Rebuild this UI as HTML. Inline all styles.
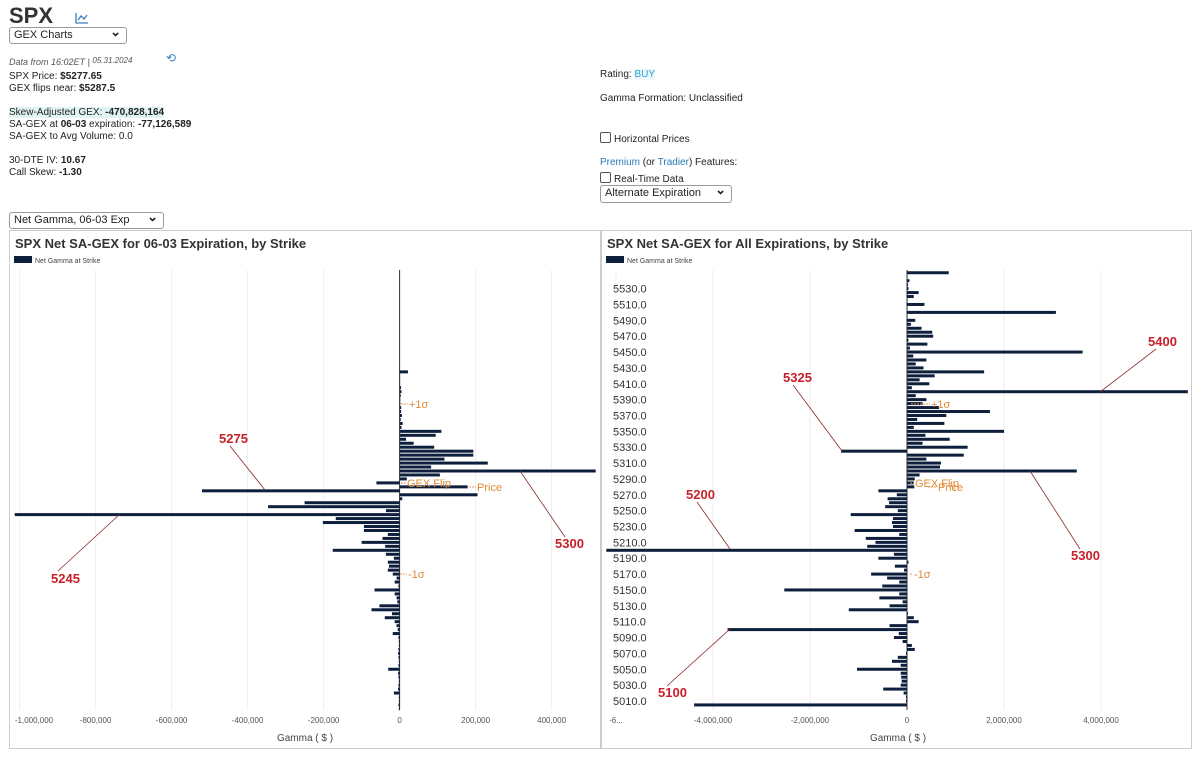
<!DOCTYPE html>
<html><head><meta charset="utf-8">
<style>
body{margin:0;width:1203px;height:772px;background:#fff;font-family:"Liberation Sans",Arial,sans-serif;color:#222;position:relative;overflow:hidden}
.a{position:absolute;white-space:nowrap}
.t{font-size:10px;line-height:11px}
.sel{position:absolute;border:1px solid #999;border-radius:3px;font-size:11px;padding:1px 4px;background:#fff;box-sizing:border-box}
.sel:after{content:"⌄";position:absolute;right:5px;top:-4px;font-size:13px;font-weight:bold}
b{font-weight:bold}
.cb{display:inline-block;width:9px;height:9px;border:1px solid #555;border-radius:2px;vertical-align:-1px;margin-right:3px}
a{color:#2a7ab8;text-decoration:none}
</style></head><body>
<div class="a" style="left:9px;top:3px;font-size:22px;font-weight:bold;color:#333">SPX</div>
<svg class="a" style="left:75px;top:12px" width="14" height="12"><polyline points="1,1 1,11 13,11" fill="none" stroke="#3a7fc0" stroke-width="1.3"/><polyline points="3,8 6,4 9,7 12,3" fill="none" stroke="#3a7fc0" stroke-width="1.3"/></svg>
<div class="sel" style="left:9px;top:27px;width:118px;height:17px">GEX Charts</div>
<div class="a t" style="left:9px;top:55px;font-style:italic;color:#555;font-size:9px">Data from 16:02ET | <span style="font-size:8px;vertical-align:2px">05.31.2024</span></div>
<div class="a" style="left:166px;top:51px;color:#3a7fc0;font-size:12px">⟲</div>
<div class="a t" style="left:9px;top:71px">SPX Price: <b>$5277.65</b></div>
<div class="a t" style="left:9px;top:83px">GEX flips near: <b>$5287.5</b></div>
<div class="a t" style="left:9px;top:107px;background:#e0f4f4">Skew-Adjusted GEX: <b>-470,828,164</b></div>
<div class="a t" style="left:9px;top:119px">SA-GEX at <b>06-03</b> expiration: <b>-77,126,589</b></div>
<div class="a t" style="left:9px;top:131px">SA-GEX to Avg Volume: 0.0</div>
<div class="a t" style="left:9px;top:155px">30-DTE IV: <b>10.67</b></div>
<div class="a t" style="left:9px;top:167px">Call Skew: <b>-1.30</b></div>
<div class="a t" style="left:600px;top:69px">Rating: <span style="color:#2a9fd6;background:#eef8fc">BUY</span></div>
<div class="a t" style="left:600px;top:93px">Gamma Formation: Unclassified</div>
<div class="a t" style="left:600px;top:132px"><span class="cb"></span>Horizontal Prices</div>
<div class="a t" style="left:600px;top:157px"><a>Premium</a> (or <a>Tradier</a>) Features:</div>
<div class="a t" style="left:600px;top:172px"><span class="cb"></span>Real-Time Data</div>
<div class="sel" style="left:600px;top:185px;width:132px;height:18px">Alternate Expiration</div>
<div class="sel" style="left:9px;top:212px;width:155px;height:17px">Net Gamma, 06-03 Exp</div>

<svg id="ch" class="a" style="left:0;top:0" width="1203" height="772"></svg>
<script>
const leftStrikes=[5425,5420,5415,5410,5405,5400,5395,5390,5385,5380,5375,5370,5365,5360,5355,5350,5345,5340,5335,5330,5325,5320,5315,5310,5305,5300,5295,5290,5285,5280,5275,5270,5265,5260,5255,5250,5245,5240,5235,5230,5225,5220,5215,5210,5205,5200,5195,5190,5185,5180,5175,5170,5165,5160,5155,5150,5145,5140,5135,5130,5125,5120,5115,5110,5105,5100,5095,5090,5085,5080,5075,5070,5065,5060,5055,5050,5045,5040,5035,5030,5025,5020,5015,5010,5005,5000];
const leftValues=[22,0,0,0,4,5,3,2,2,4,4,6,3,8,5,110,95,17,37,91,194,194,118,232,83,516,106,19,-61,179,-520,205,7,-250,-346,-36,-1013,-168,-202,-94,-94,-31,-45,-100,-38,-176,-36,-15,-31,-28,-31,-18,-8,-13,-3,-66,-13,-8,-6,-53,-74,-20,-39,-13,-8,-5,-18,-3,-2,-2,-3,-4,-3,-2,-3,-30,-4,-3,-2,-3,-4,-15,-2,-2,-3,-2];
const leftTicks=[-1000,-800,-600,-400,-200,0,200,400];
const leftTickLabels=["-1,000,000","-800,000","-600,000","-400,000","-200,000","0","200,000","400,000"];
const rightStrikes=[];for(let s=5550;s>=5005;s-=5)rightStrikes.push(s);
const rightValues=[0.86,0,0.05,0.02,0.03,0.24,0.14,0,0.36,0,3.07,0,0.17,0.08,0.3,0.52,0.54,0.03,0.42,0.06,3.62,0.13,0.4,0.18,0.34,1.59,0.57,0.26,0.46,0.1,5.79,0.18,0.4,0.32,0.66,1.71,0.81,0.21,0.77,0.14,2.0,0.38,0.88,0.32,1.25,-1.36,1.17,0.4,0.7,0.68,3.5,0.26,0.16,0.14,0.15,-0.59,-0.21,-0.4,-0.37,-0.45,-0.19,-1.16,-0.29,-0.31,-0.29,-1.08,-0.16,-0.85,-0.65,-0.82,-6.2,-0.27,-0.59,0.03,-0.25,-0.06,-0.74,-0.41,-0.16,-0.51,-2.53,-0.16,-0.57,-0.09,-0.36,-1.2,0.02,0.14,0.24,-0.36,-3.7,-0.17,-0.27,-0.09,0.1,0.16,-0.02,-0.19,-0.31,-0.13,-1.03,-0.13,-0.12,-0.11,-0.13,-0.49,-0.07,-0.02,-0.02,-4.39];
const rightTicks=[-6,-4,-2,0,2,4];
const rightTickLabels=["-6...","-4,000,000","-2,000,000","0","2,000,000","4,000,000"];
const rightYLabels=[5530,5510,5490,5470,5450,5430,5410,5390,5370,5350,5330,5310,5290,5270,5250,5230,5210,5190,5170,5150,5130,5110,5090,5070,5050,5030,5010];

const svg=document.getElementById('ch');const NS='http://www.w3.org/2000/svg';
function mk(t,a,txt){const e=document.createElementNS(NS,t);for(const k in a)e.setAttribute(k,a[k]);if(txt!=null)e.textContent=txt;svg.appendChild(e);return e;}
const yS=s=>471-(s-5300)*0.793;
const xL=v=>399.6+v*0.38;
const xR=v=>907+v*48.5;

let p=mk('rect',{x:9.5,y:230.5,width:591,height:518,fill:'none',stroke:'#ccc'});

p=mk('rect',{x:601.5,y:230.5,width:590,height:518,fill:'none',stroke:'#ccc'});

function header(x,title,nm){
 let e=mk('text',{x:x,y:248,'font-size':13,'font-weight':'bold',fill:'#333'},title);
 
 e=mk('rect',{x:x-1,y:256,width:18,height:7,fill:'#0d1f3c'});
 
 e=mk('text',{x:x+20,y:263,'font-size':7,fill:'#444'},'Net Gamma at Strike');
 
 e=mk('text',{x:x===15?305:898,y:741,'font-size':10,fill:'#444','text-anchor':'middle'},'Gamma ( $ )');
 
}
header(15,'SPX Net SA-GEX for 06-03 Expiration, by Strike','left');
header(607,'SPX Net SA-GEX for All Expirations, by Strike','right');

leftTicks.forEach((t,i)=>{const x=xL(t);
 let g=mk('line',{x1:x,x2:x,y1:270,y2:710,stroke:'#eee'});
 let e=mk('text',{x:Math.max(x,34),y:723,'font-size':8,fill:'#555','text-anchor':'middle'},leftTickLabels[i]);
 });
rightTicks.forEach((t,i)=>{const x=xR(t);
 let g=mk('line',{x1:x,x2:x,y1:270,y2:710,stroke:'#eee'});
 let e=mk('text',{x:Math.max(x,614),y:723,'font-size':8,fill:'#555','text-anchor':'middle'},rightTickLabels[i]);
 });
rightYLabels.forEach(s=>{let e=mk('text',{x:613,y:yS(s)+4,'font-size':11,fill:'#333'},s.toFixed(1));
 });

let ax=mk('line',{x1:399.6,x2:399.6,y1:270,y2:710,stroke:'#333','stroke-width':1});
ax=mk('line',{x1:907,x2:907,y1:270,y2:710,stroke:'#333','stroke-width':1});

leftStrikes.forEach((s,i)=>{const v=leftValues[i];const x0=xL(0),x1=xL(v);
 const b=mk('rect',{x:Math.min(x0,x1),y:yS(s)-1.5,width:Math.max(Math.abs(x1-x0),0.5),height:3,fill:'#0d1f3c'});
 });
rightStrikes.forEach((s,i)=>{const v=rightValues[i];const x0=xR(0),x1=xR(v);
 const b=mk('rect',{x:Math.min(x0,x1),y:yS(s)-1.5,width:Math.max(Math.abs(x1-x0),0.5),height:3,fill:'#0d1f3c'});
 });

function note(t,tx,ty,x1,y1,x2,y2){
 let l=mk('line',{x1:x1,y1:y1,x2:x2,y2:y2,stroke:'#8b2a2a','stroke-width':0.8});
 let e=mk('text',{x:tx,y:ty,'font-size':13,'font-weight':'bold',fill:'#c8202a'},t);}
note('5275',219,443,230,446,265,490);
note('5245',51,583,58,571,120,514);
note('5300',555,548,565,537,520,471);
note('5325',783,382,793,385,842,451);
note('5400',1148,346,1156,349,1100,392);
note('5200',686,499,697,502,730,549);
note('5300',1071,560,1080,549,1030,471);
note('5100',658,697,667,686,730,629);

function mark(t,x,y,dx){let l=mk('line',{x1:x-dx,x2:x-1,y1:y-4,y2:y-4,stroke:'#e39a4c','stroke-dasharray':'2,1'});
 let e=mk('text',{x:x,y:y,'font-size':11,fill:'#e08a36'},t);}
mark('+1σ',409,408,8);mark('GEX Flip',407,487,6);mark('Price',477,491,8);mark('-1σ',408,578,8);
mark('+1σ',931,408,20);mark('GEX Flip',915,487,5);mark('Price',938,491,10);mark('-1σ',914,578,4);
</script>
</body></html>
